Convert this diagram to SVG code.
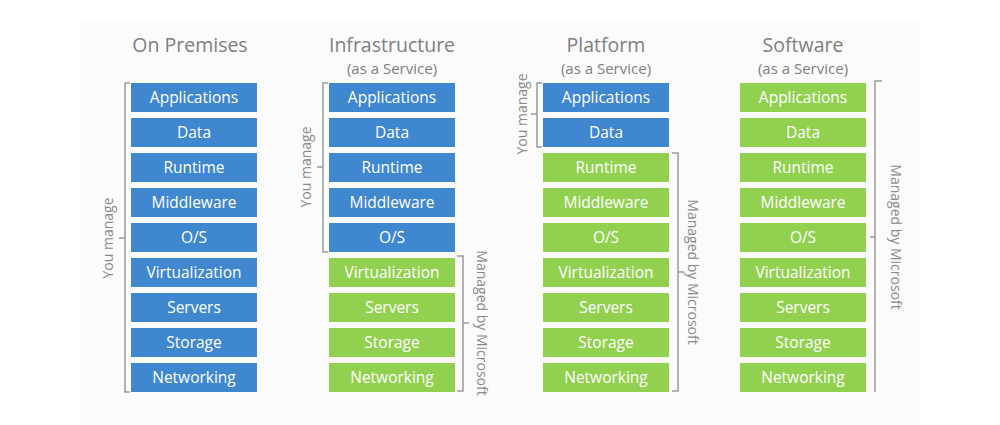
<svg xmlns="http://www.w3.org/2000/svg" width="1000" height="425" viewBox="0 0 1000 425">
<style>
.t{font-family:"Open Sans","Noto Sans",sans-serif;fill:#7f7f7f;text-anchor:middle}
.h{font-size:19.5px}
.s{font-size:15px}
.b rect{fill:#3f87cf}
.g rect{fill:#92d050}
.lbl{font-family:"Open Sans","Noto Sans",sans-serif;font-size:15.5px;fill:#fff;text-anchor:middle}
.br{fill:none;stroke:#9a9a9a;stroke-width:1.5}
.side{font-family:"Open Sans","Noto Sans",sans-serif;font-size:14px;fill:#8a8a8a;text-anchor:middle}
</style>
<rect width="1000" height="425" fill="#fff"/>
<rect x="80" y="20" width="840" height="405" fill="#fbfbfb"/>
<g id="titles">
<text class="t h" x="190" y="52">On Premises</text>
<text class="t h" x="392" y="52">Infrastructure</text>
<text class="t s" x="392" y="74">(as a Service)</text>
<text class="t h" x="606" y="52">Platform</text>
<text class="t s" x="606" y="74">(as a Service)</text>
<text class="t h" x="803" y="52">Software</text>
<text class="t s" x="803" y="74">(as a Service)</text>
</g>
<g id="col-onprem" class="b">
<rect x="131" y="83" width="126" height="29"/><text class="lbl" x="194" y="103">Applications</text>
<rect x="131" y="118" width="126" height="29"/><text class="lbl" x="194" y="138">Data</text>
<rect x="131" y="153" width="126" height="29"/><text class="lbl" x="194" y="173">Runtime</text>
<rect x="131" y="188" width="126" height="29"/><text class="lbl" x="194" y="208">Middleware</text>
<rect x="131" y="223" width="126" height="29"/><text class="lbl" x="194" y="243">O/S</text>
<rect x="131" y="258" width="126" height="29"/><text class="lbl" x="194" y="278">Virtualization</text>
<rect x="131" y="293" width="126" height="29"/><text class="lbl" x="194" y="313">Servers</text>
<rect x="131" y="328" width="126" height="29"/><text class="lbl" x="194" y="348">Storage</text>
<rect x="131" y="363" width="126" height="29"/><text class="lbl" x="194" y="383">Networking</text>
</g>
<g id="col-iaas">
<g class="b">
<rect x="329" y="83" width="126" height="29"/><text class="lbl" x="392" y="103">Applications</text>
<rect x="329" y="118" width="126" height="29"/><text class="lbl" x="392" y="138">Data</text>
<rect x="329" y="153" width="126" height="29"/><text class="lbl" x="392" y="173">Runtime</text>
<rect x="329" y="188" width="126" height="29"/><text class="lbl" x="392" y="208">Middleware</text>
<rect x="329" y="223" width="126" height="29"/><text class="lbl" x="392" y="243">O/S</text>
</g>
<g class="g">
<rect x="329" y="258" width="126" height="29"/><text class="lbl" x="392" y="278">Virtualization</text>
<rect x="329" y="293" width="126" height="29"/><text class="lbl" x="392" y="313">Servers</text>
<rect x="329" y="328" width="126" height="29"/><text class="lbl" x="392" y="348">Storage</text>
<rect x="329" y="363" width="126" height="29"/><text class="lbl" x="392" y="383">Networking</text>
</g>
</g>
<g id="col-paas">
<g class="b">
<rect x="543" y="83" width="126" height="29"/><text class="lbl" x="606" y="103">Applications</text>
<rect x="543" y="118" width="126" height="29"/><text class="lbl" x="606" y="138">Data</text>
</g>
<g class="g">
<rect x="543" y="153" width="126" height="29"/><text class="lbl" x="606" y="173">Runtime</text>
<rect x="543" y="188" width="126" height="29"/><text class="lbl" x="606" y="208">Middleware</text>
<rect x="543" y="223" width="126" height="29"/><text class="lbl" x="606" y="243">O/S</text>
<rect x="543" y="258" width="126" height="29"/><text class="lbl" x="606" y="278">Virtualization</text>
<rect x="543" y="293" width="126" height="29"/><text class="lbl" x="606" y="313">Servers</text>
<rect x="543" y="328" width="126" height="29"/><text class="lbl" x="606" y="348">Storage</text>
<rect x="543" y="363" width="126" height="29"/><text class="lbl" x="606" y="383">Networking</text>
</g>
</g>
<g id="col-saas" class="g">
<rect x="740" y="83" width="126" height="29"/><text class="lbl" x="803" y="103">Applications</text>
<rect x="740" y="118" width="126" height="29"/><text class="lbl" x="803" y="138">Data</text>
<rect x="740" y="153" width="126" height="29"/><text class="lbl" x="803" y="173">Runtime</text>
<rect x="740" y="188" width="126" height="29"/><text class="lbl" x="803" y="208">Middleware</text>
<rect x="740" y="223" width="126" height="29"/><text class="lbl" x="803" y="243">O/S</text>
<rect x="740" y="258" width="126" height="29"/><text class="lbl" x="803" y="278">Virtualization</text>
<rect x="740" y="293" width="126" height="29"/><text class="lbl" x="803" y="313">Servers</text>
<rect x="740" y="328" width="126" height="29"/><text class="lbl" x="803" y="348">Storage</text>
<rect x="740" y="363" width="126" height="29"/><text class="lbl" x="803" y="383">Networking</text>
</g>
<g id="brackets">
<path class="br" d="M130 83H125V392H130M125 238H119"/>
<text class="side" transform="translate(113 238) rotate(-90)">You manage</text>
<path class="br" d="M328 83H323V252H328M323 167H317"/>
<text class="side" transform="translate(311 167) rotate(-90)">You manage</text>
<path class="br" d="M457 256H463V391H457M463 323H469"/>
<text class="side" transform="translate(477 323) rotate(90)">Managed by Microsoft</text>
<path class="br" d="M542 83H537V147H542M537 114H531"/>
<text class="side" transform="translate(527 114) rotate(-90)">You manage</text>
<path class="br" d="M672 153H678V391H672M678 272H684"/>
<text class="side" transform="translate(688 272) rotate(90)">Managed by Microsoft</text>
<path class="br" d="M882 81H875V392M875 237H870"/>
<text class="side" transform="translate(891 237) rotate(90)">Managed by Microsoft</text>
</g>
</svg>
